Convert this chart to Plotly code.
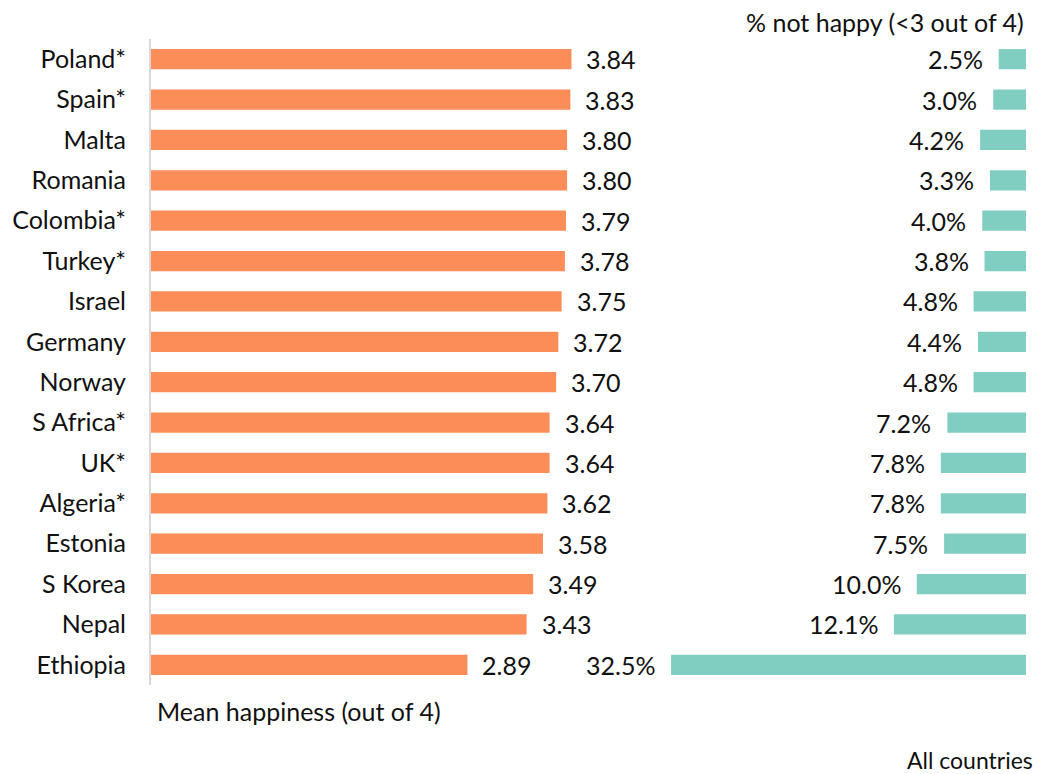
import plotly.graph_objects as go

countries = ["Poland*", "Spain*", "Malta", "Romania", "Colombia*", "Turkey*", "Israel",
             "Germany", "Norway", "S Africa*", "UK*", "Algeria*", "Estonia", "S Korea",
             "Nepal", "Ethiopia"]
mean_happiness = [3.84, 3.83, 3.80, 3.80, 3.79, 3.78, 3.75, 3.72, 3.70, 3.64, 3.64,
                  3.62, 3.58, 3.49, 3.43, 2.89]
pct_not_happy = [2.5, 3.0, 4.2, 3.3, 4.0, 3.8, 4.8, 4.4, 4.8, 7.2, 7.8, 7.8, 7.5,
                 10.0, 12.1, 32.5]

OX, OY = 8, 8  # page body margin offset
W, H = 1043 - OX, 774 - OY
L, R, T, B = 151 - OX, 1043 - 1026, 39 - OY, 89
plot_w = W - L - R
plot_h = H - T - B
split_px = 449
d = split_px / plot_w
left_max = split_px / 109.5
right_max = (plot_w - split_px) / 10.92

FONT = "Lato"
FS = 25
ORANGE = "#FC8D59"
TEAL = "#80CDC1"
TXT = "#111111"

fig = go.Figure()
fig.add_trace(go.Bar(y=countries, x=mean_happiness, orientation="h",
                     marker=dict(color=ORANGE, line=dict(width=0)), width=0.5,
                     xaxis="x", yaxis="y", hoverinfo="skip"))
fig.add_trace(go.Bar(y=countries, x=pct_not_happy, orientation="h",
                     marker=dict(color=TEAL, line=dict(width=0)), width=0.5,
                     xaxis="x2", yaxis="y", hoverinfo="skip"))

annotations = []
for c, v in zip(countries, mean_happiness):
    annotations.append(dict(x=v, y=c, xref="x", yref="y", text=f"{v:.2f}",
                            xanchor="left", yanchor="middle", xshift=13,
                            showarrow=False, font=dict(size=FS, color=TXT, family=FONT)))
for c, v in zip(countries, pct_not_happy):
    annotations.append(dict(x=v, y=c, xref="x2", yref="y", text=f"{v:.1f}%",
                            xanchor="right", yanchor="middle", xshift=-14,
                            showarrow=False, font=dict(size=FS, color=TXT, family=FONT)))


def pos(px, py):
    fx = px - OX
    fy = py - OY
    return (fx - L) / plot_w, 1 - (fy - T) / plot_h


x, y = pos(1026, 22)
annotations.append(dict(x=x, y=y, xref="paper", yref="paper",
                        text="% not happy (<3 out of 4)", xanchor="right", yanchor="middle",
                        showarrow=False, font=dict(size=FS, color=TXT, family=FONT)))
x, y = pos(155, 711)
annotations.append(dict(x=x, y=y, xref="paper", yref="paper",
                        text="Mean happiness (out of 4)", xanchor="left", yanchor="middle",
                        showarrow=False, font=dict(size=FS, color=TXT, family=FONT)))
x, y = pos(1035, 760)
annotations.append(dict(x=x, y=y, xref="paper", yref="paper",
                        text="All countries", xanchor="right", yanchor="middle",
                        showarrow=False, font=dict(size=23, color=TXT, family=FONT)))

fig.update_layout(
    width=W, height=H,
    margin=dict(l=L, r=R, t=T, b=B, autoexpand=False),
    plot_bgcolor="white", paper_bgcolor="white",
    showlegend=False, barmode="overlay",
    font=dict(family=FONT, size=FS, color=TXT),
    xaxis=dict(domain=[0, d], range=[0, left_max], showgrid=False, zeroline=False,
               showticklabels=False, showline=False, fixedrange=True, automargin=False),
    xaxis2=dict(domain=[d, 1], range=[right_max, 0], showgrid=False, zeroline=False,
                showticklabels=False, showline=False, fixedrange=True, anchor="y",
                automargin=False),
    yaxis=dict(autorange="reversed", showgrid=False, zeroline=False, automargin=False,
               showline=True, linecolor="#d9d9d9", linewidth=2,
               ticks="", ticklabelstandoff=18,
               tickfont=dict(size=FS, family=FONT, color=TXT)),
    annotations=annotations,
)

fig.write_html("out.html")
